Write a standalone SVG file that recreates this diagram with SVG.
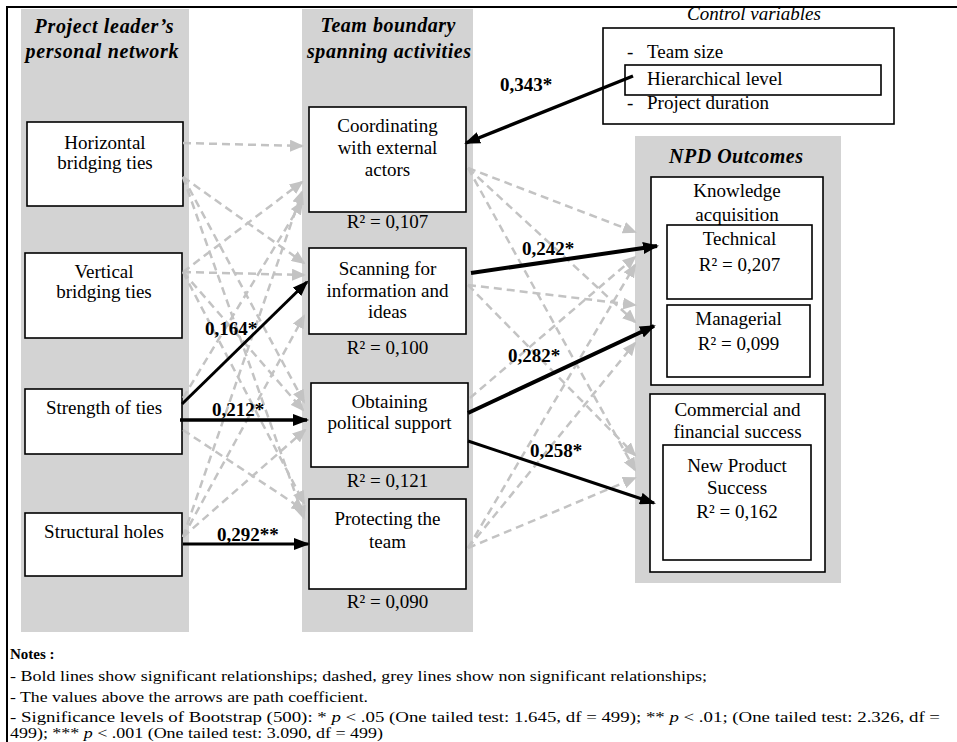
<svg xmlns="http://www.w3.org/2000/svg" width="957" height="742" viewBox="0 0 957 742">
<defs>
<style>
text{font-family:"Liberation Serif","Times New Roman",serif;fill:#000}
.t{font-size:19px;text-anchor:middle}
.h{font-size:20px;font-weight:bold;font-style:italic;text-anchor:middle}
.box{fill:#fff;stroke:#000;stroke-width:1.6}
.grey{fill:#d3d3d3}
.dash{stroke:#c3c3c3;stroke-width:2.5;stroke-dasharray:8 5;fill:none;marker-end:url(#ag)}
.bold{stroke:#000;fill:none;marker-end:url(#ab)}
.lbl{font-size:19px;font-weight:bold}
.note{font-size:14px}
</style>
<marker id="ag" markerUnits="userSpaceOnUse" markerWidth="14" markerHeight="12" refX="12" refY="6" orient="auto">
<path d="M0,0 L14,6 L0,12 z" fill="#c3c3c3"/>
</marker>
<marker id="ab" markerUnits="userSpaceOnUse" markerWidth="16" markerHeight="12" refX="14" refY="6" orient="auto">
<path d="M0,0 L16,6 L0,12 z" fill="#000"/>
</marker>
</defs>
<rect width="957" height="742" fill="#fff"/>
<path d="M7,742 V7 H957" fill="none" stroke="#000" stroke-width="2"/>
<rect class="grey" x="21" y="9" width="168" height="623"/>
<rect class="grey" x="302" y="9" width="171" height="623"/>
<rect class="grey" x="635" y="136" width="206" height="447"/>
<text class="h" x="104" y="33" textLength="139" lengthAdjust="spacing">Project leader’s</text>
<text class="h" x="102" y="58" textLength="153" lengthAdjust="spacing">personal network</text>
<text class="h" x="388" y="32" textLength="135" lengthAdjust="spacing">Team boundary</text>
<text class="h" x="389" y="58" textLength="164" lengthAdjust="spacing">spanning activities</text>
<text class="h" x="736" y="163" textLength="134" lengthAdjust="spacing">NPD Outcomes</text>

<g id="horizontal">
<rect class="box" x="27" y="122" width="156" height="84"/>
<text class="t" x="105" y="149">Horizontal</text>
<text class="t" x="105" y="169">bridging ties</text>
</g>
<g id="vertical">
<rect class="box" x="25" y="253" width="157" height="85"/>
<text class="t" x="104" y="278">Vertical</text>
<text class="t" x="104" y="298">bridging ties</text>
</g>
<g id="strength">
<rect class="box" x="25" y="389" width="157" height="65"/>
<text class="t" x="104" y="414">Strength of ties</text>
</g>
<g id="structural">
<rect class="box" x="25" y="513" width="157" height="63"/>
<text class="t" x="104" y="538">Structural holes</text>
</g>

<g id="coordinating">
<rect class="box" x="309" y="107" width="157" height="105"/>
<text class="t" x="387.5" y="132">Coordinating</text>
<text class="t" x="387.5" y="154">with external</text>
<text class="t" x="387.5" y="176">actors</text>
<text class="t" x="387.5" y="228">R² = 0,107</text>
</g>
<g id="scanning">
<rect class="box" x="309" y="248" width="157" height="86"/>
<text class="t" x="387.5" y="275">Scanning for</text>
<text class="t" x="387.5" y="297">information and</text>
<text class="t" x="387.5" y="318">ideas</text>
<text class="t" x="387.5" y="354">R² = 0,100</text>
</g>
<g id="obtaining">
<rect class="box" x="311" y="383" width="157" height="84"/>
<text class="t" x="389.5" y="408">Obtaining</text>
<text class="t" x="389.5" y="429">political support</text>
<text class="t" x="387.5" y="487">R² = 0,121</text>
</g>
<g id="protecting">
<rect class="box" x="309" y="499" width="157" height="90"/>
<text class="t" x="387.5" y="525">Protecting the</text>
<text class="t" x="387.5" y="548">team</text>
<text class="t" x="387.5" y="608">R² = 0,090</text>
</g>

<g id="control">
<text x="754" y="20" style="font-size:19px;font-style:italic;text-anchor:middle">Control variables</text>
<rect class="box" x="603" y="28" width="291" height="96"/>
<text x="627" y="58" style="font-size:19px">-</text>
<text x="647" y="58" style="font-size:19px">Team size</text>
<rect class="box" x="625" y="65" width="256" height="30"/>
<text x="647" y="85" style="font-size:19px">Hierarchical level</text>
<text x="627" y="109" style="font-size:19px">-</text>
<text x="647" y="109" style="font-size:19px">Project duration</text>
</g>

<g id="knowledge">
<rect class="box" x="651" y="177" width="172" height="208"/>
<text class="t" x="737" y="197">Knowledge</text>
<text class="t" x="737" y="221">acquisition</text>
</g>
<g id="technical">
<rect class="box" x="667" y="225" width="145" height="74"/>
<text class="t" x="739.5" y="245">Technical</text>
<text class="t" x="739.5" y="271">R² = 0,207</text>
</g>
<g id="managerial">
<rect class="box" x="667" y="305" width="143" height="72"/>
<text class="t" x="738.5" y="325">Managerial</text>
<text class="t" x="738.5" y="350">R² = 0,099</text>
</g>
<g id="commercial">
<rect class="box" x="650" y="394" width="175" height="178"/>
<text class="t" x="737.5" y="416">Commercial and</text>
<text class="t" x="737.5" y="438">financial success</text>
</g>
<g id="newproduct">
<rect class="box" x="663" y="445" width="148" height="115"/>
<text class="t" x="737" y="472">New Product</text>
<text class="t" x="737" y="494">Success</text>
<text class="t" x="737" y="518">R² = 0,162</text>
</g>

<g id="connectors">
<path class="dash" d="M183,143 L302,146"/>
<path class="dash" d="M183,177 L304,263"/>
<path class="dash" d="M183,177 L304,402"/>
<path class="dash" d="M183,177 L304,518"/>
<path class="dash" d="M183,272 L302,182"/>
<path class="dash" d="M183,272 L304,275"/>
<path class="dash" d="M183,272 L303,410"/>
<path class="dash" d="M183,272 L304,503"/>
<path class="dash" d="M183,398 L302,202"/>
<path class="dash" d="M183,430 L304,510"/>
<path class="dash" d="M183,537 L302,192"/>
<path class="dash" d="M183,537 L304,316"/>
<path class="dash" d="M183,537 L305,430"/>
<path class="dash" d="M468,168 L635,232"/>
<path class="dash" d="M468,168 L635,322"/>
<path class="dash" d="M468,168 L635,470"/>
<path class="dash" d="M468,285 L635,305"/>
<path class="dash" d="M468,285 L635,455"/>
<path class="dash" d="M470,398 L635,257"/>
<path class="dash" d="M468,548 L635,265"/>
<path class="dash" d="M468,548 L635,343"/>
<path class="dash" d="M468,548 L635,478"/>
<path class="bold" stroke-width="3.5" d="M633,76 L466,143"/>
<path class="bold" stroke-width="4" d="M471,273 L657,246"/>
<path class="bold" stroke-width="4" d="M468,413 L654,326"/>
<path class="bold" stroke-width="3" d="M468,441 L654,503"/>
<path class="bold" stroke-width="3" d="M182,404 L307,282"/>
<path class="bold" stroke-width="3.5" d="M180,420 L307,420"/>
<path class="bold" stroke-width="3" d="M183,544 L308,544"/>
<text class="lbl" x="500" y="91">0,343*</text>
<text class="lbl" x="522" y="255">0,242*</text>
<text class="lbl" x="508" y="362">0,282*</text>
<text class="lbl" x="530" y="457">0,258*</text>
<text class="lbl" x="205" y="335">0,164*</text>
<text class="lbl" x="212" y="416">0,212*</text>
<text class="lbl" x="217" y="541">0,292**</text>
</g>

<g id="notes">
<text class="note" x="10" y="659" font-weight="bold" style="font-size:15px">Notes :</text>
<text class="note" x="10" y="681" textLength="697" lengthAdjust="spacingAndGlyphs">- Bold lines show significant relationships; dashed, grey lines show non significant relationships;</text>
<text class="note" x="10" y="702" textLength="358" lengthAdjust="spacingAndGlyphs">- The values above the arrows are path coefficient.</text>
<text class="note" x="10" y="722" textLength="930" lengthAdjust="spacingAndGlyphs">- Significance levels of Bootstrap (500): * <tspan font-style="italic">p</tspan> &lt; .05 (One tailed test: 1.645, df = 499); ** <tspan font-style="italic">p</tspan> &lt; .01; (One tailed test: 2.326, df =</text>
<text class="note" x="10" y="738" textLength="373" lengthAdjust="spacingAndGlyphs">499); *** <tspan font-style="italic">p</tspan> &lt; .001 (One tailed test: 3.090, df = 499)</text>
</g>
</svg>
